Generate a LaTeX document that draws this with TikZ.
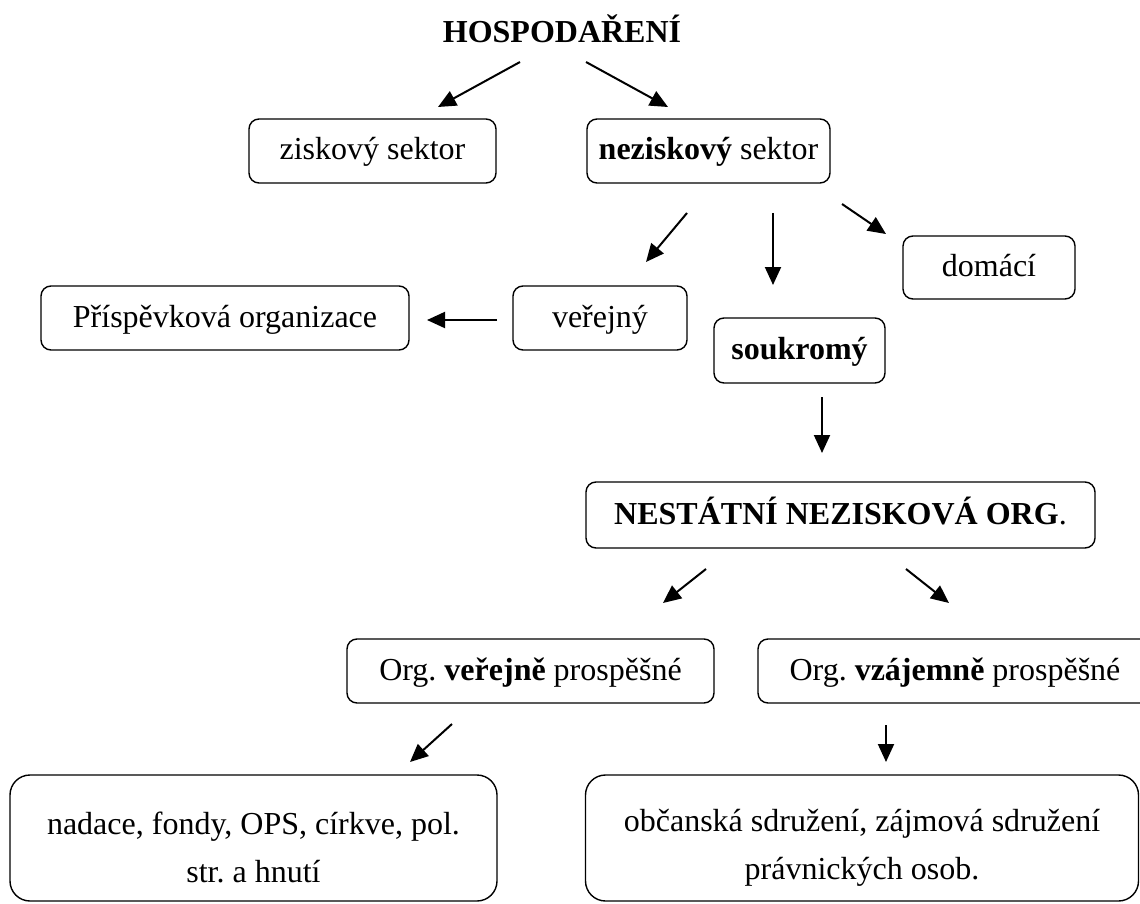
\documentclass[tikz,border=0pt]{standalone}
\usepackage{fontspec}
\setmainfont{Liberation Serif}
\usetikzlibrary{arrows.meta}
\frenchspacing
\begin{document}
\begin{tikzpicture}[x=1pt,y=-1pt,
  box/.style={draw, line width=1.4pt, rounded corners=10pt, align=center,
    text height=25pt, text depth=7pt, inner sep=0pt},
  bigbox/.style={draw, line width=1.4pt, rounded corners=20pt, align=center, inner sep=0pt},
  arr/.style={line width=2pt, -{Triangle[length=18pt,width=16pt]}}]
\useasboundingbox (0,0) rectangle (1140,904);
\fontsize{32}{48}\selectfont
\node[anchor=base, font=\bfseries] (hosp) at (562,43) {HOSPODAŘENÍ};
\node[box, minimum width=247pt, minimum height=64pt] (zisk) at (372.5,151) {ziskový sektor};
\node[box, minimum width=243pt, minimum height=64pt] (nezisk) at (708.5,151) {\textbf{neziskový} sektor};
\node[box, minimum width=172pt, minimum height=63pt] (domaci) at (989,267.5) {domácí};
\node[box, minimum width=174pt, minimum height=64pt] (verejny) at (600,318) {veřejný};
\node[box, minimum width=368pt, minimum height=64pt] (prisp) at (225,318) {Příspěvková organizace};
\node[box, minimum width=171pt, minimum height=65pt] (soukr) at (799.5,350.5) {\textbf{soukromý}};
\node[box, minimum width=509pt, minimum height=66pt] (nno) at (840.5,515) {\textbf{NESTÁTNÍ NEZISKOVÁ ORG}.};
\node[box, minimum width=367pt, minimum height=64pt] (orgver) at (530.5,671) {Org. \textbf{veřejně} prospěšné};
\node[box, minimum width=394pt, minimum height=64pt] (orgvz) at (955,671) {Org. \textbf{vzájemně} prospěšné};
\node[bigbox, minimum width=487pt, minimum height=126pt] (nadace) at (253.5,838) {\rule{0pt}{41pt}nadace, fondy, OPS, církve, pol.\\str. a hnutí};
\node[bigbox, minimum width=553pt, minimum height=126pt] (obcan) at (862,838) {\rule{0pt}{41pt}občanská sdružení, zájmová sdružení\\právnických osob.};
% arrow end points
\coordinate (a1s) at (520,62);  \coordinate (a1e) at (438,107);
\coordinate (a2s) at (586,62);  \coordinate (a2e) at (668,107);
\coordinate (a3s) at (687,213); \coordinate (a3e) at (646,262);
\coordinate (a4s) at (773,213); \coordinate (a4e) at (773,285);
\coordinate (a5s) at (842,204); \coordinate (a5e) at (886,234);
\coordinate (a6s) at (497,320); \coordinate (a6e) at (427,320);
\coordinate (a7s) at (822,397); \coordinate (a7e) at (822,453);
\coordinate (a8s) at (706,569); \coordinate (a8e) at (663,603);
\coordinate (a9s) at (906,569); \coordinate (a9e) at (949,603);
\coordinate (a10s) at (452,724); \coordinate (a10e) at (410,762);
\coordinate (a11s) at (886,725); \coordinate (a11e) at (886,762);
\foreach \i in {1,...,11} {\draw[arr] (a\i s) -- (a\i e);}
\end{tikzpicture}
\end{document}
